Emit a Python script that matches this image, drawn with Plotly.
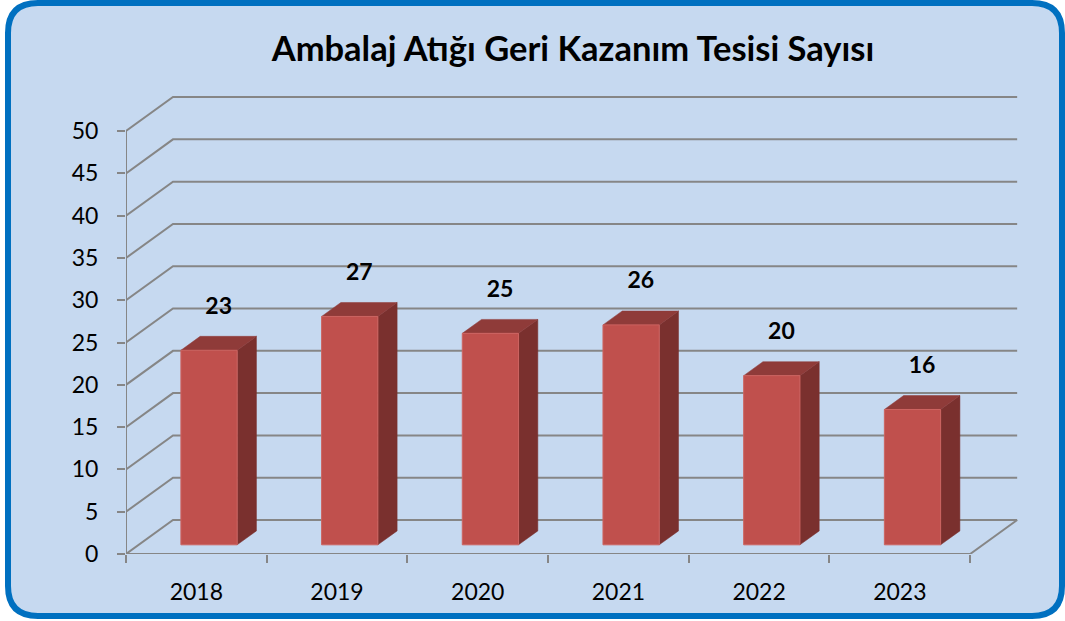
import plotly.graph_objects as go

# ---- data ----
years = ["2018", "2019", "2020", "2021", "2022", "2023"]
values = [23, 27, 25, 26, 20, 16]
y_ticks = [0, 5, 10, 15, 20, 25, 30, 35, 40, 45, 50]
title_text = "Ambalaj Atığı Geri Kazanım Tesisi Sayısı"

# ---- 3D projection parameters (in axis units) ----
DX = 0.334      # full depth offset along x (category units)
DY = 4.02       # full depth offset along y (value units)
F0, F1 = 0.27, 0.68   # bar front / back depth fractions
BW = 0.4        # bar width (category units)
N = len(years)

GRID = "#868686"
FRONT = "#C0504D"
SIDE = "#7A302E"
TOP = "#8F3B39"

fig = go.Figure()

# gridlines (back wall + left wall)
gx, gy = [], []
for v in y_ticks:
    gx += [0, DX, N + DX, None]
    gy += [v, v + DY, v + DY, None]
# floor front edge, right edge, front vertical axis
gx += [0, N, N + DX, None, 0, 0, None]
gy += [0, 0, DY, None, 0, max(y_ticks), None]
fig.add_trace(go.Scatter(x=gx, y=gy, mode="lines",
                         line=dict(color=GRID, width=2),
                         hoverinfo="skip", showlegend=False))

# bars
for i, v in enumerate(values):
    xl = i + (1 - BW) / 2 + F0 * DX
    xr = xl + BW
    dd = (F1 - F0) * DX
    y0 = F0 * DY
    y1 = F1 * DY
    # side face
    fig.add_trace(go.Scatter(
        x=[xr, xr + dd, xr + dd, xr, xr],
        y=[y0, y1, v + y1, v + y0, y0],
        fill="toself", fillcolor=SIDE, mode="lines",
        line=dict(color=SIDE, width=0.5), hoverinfo="skip", showlegend=False))
    # top face
    fig.add_trace(go.Scatter(
        x=[xl, xr, xr + dd, xl + dd, xl],
        y=[v + y0, v + y0, v + y1, v + y1, v + y0],
        fill="toself", fillcolor=TOP, mode="lines",
        line=dict(color=TOP, width=0.5), hoverinfo="skip", showlegend=False))
    # front face
    fig.add_trace(go.Scatter(
        x=[xl, xr, xr, xl, xl],
        y=[y0, y0, v + y0, v + y0, y0],
        fill="toself", fillcolor=FRONT, mode="lines",
        line=dict(color="#CD6461", width=1), hoverinfo="skip", showlegend=False))

# data labels
lx = [i + 0.5 + (F0 + F1) / 2 * DX for i in range(N)]
ly = [v + (F0 + F1) / 2 * DY + 4.2 for v in values]
fig.add_trace(go.Scatter(
    x=lx, y=ly, mode="text", text=[str(v) for v in values],
    textfont=dict(family="Lato", size=23, color="black", weight="bold"),
    hoverinfo="skip", showlegend=False))

# background rounded panel (figure pixels -> paper coords)
W, H = 1065, 621
ML, MR, MT, MB = 126, 47, 93, 67
PW, PH = W - ML - MR, H - MT - MB

def px(x):
    return (x - ML) / PW

def py(y):
    return (H - MB - y) / PH

x0, x1, y0p, y1p, r = 8, 1062, 3, 616, 30
path = (
    f"M {px(x0 + r)},{py(y0p)} L {px(x1 - r)},{py(y0p)} "
    f"Q {px(x1)},{py(y0p)} {px(x1)},{py(y0p + r)} "
    f"L {px(x1)},{py(y1p - r)} Q {px(x1)},{py(y1p)} {px(x1 - r)},{py(y1p)} "
    f"L {px(x0 + r)},{py(y1p)} Q {px(x0)},{py(y1p)} {px(x0)},{py(y1p - r)} "
    f"L {px(x0)},{py(y0p + r)} Q {px(x0)},{py(y0p)} {px(x0 + r)},{py(y0p)} Z"
)
fig.add_shape(type="path", path=path, xref="paper", yref="paper",
              fillcolor="#C6D9F0", line=dict(color="#0070C0", width=6),
              layer="below")

fig.update_layout(
    width=W, height=H,
    margin=dict(l=ML, r=MR, t=MT, b=MB),
    paper_bgcolor="white",
    plot_bgcolor="rgba(0,0,0,0)",
    title=dict(text=f"<b>{title_text}</b>", x=573 / W, xanchor="center",
               y=1 - 49 / H, yanchor="middle",
               font=dict(family="Lato", size=34.5, color="black")),
    xaxis=dict(range=[0, N + DX + 0.006], tickvals=[i + 0.5 for i in range(N)],
               ticktext=years, ticks="", showgrid=False, zeroline=False,
               showline=False, ticklabelstandoff=22,
               tickfont=dict(family="Lato", size=23, color="black"),
               minor=dict(tickvals=list(range(N + 1)), ticks="outside",
                          ticklen=8, tickwidth=2, tickcolor=GRID, showgrid=False),
               fixedrange=True),
    yaxis=dict(range=[0, 54.5], tickvals=y_ticks, ticks="outside", ticklen=8,
               tickwidth=2, tickcolor=GRID, showgrid=False, zeroline=False,
               showline=False, ticklabelstandoff=14,
               tickfont=dict(family="Lato", size=23, color="black"),
               fixedrange=True),
)

fig.write_html(
    "out.html",
    config={"displayModeBar": False},
    post_script="document.body.style.margin='0';document.body.style.overflow='hidden';",
)
